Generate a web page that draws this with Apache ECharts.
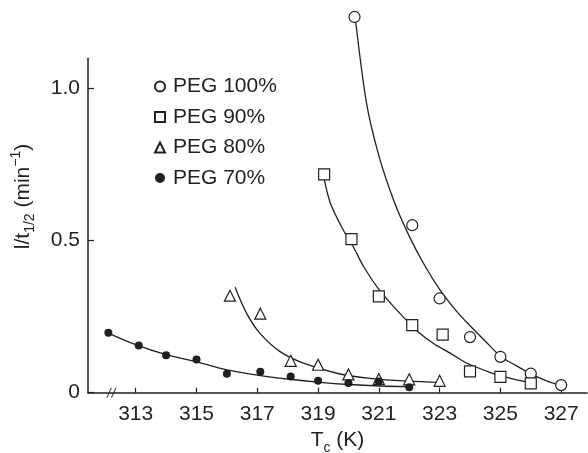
<!DOCTYPE html>
<html>
<head>
<meta charset="utf-8">
<script src="https://cdn.jsdelivr.net/npm/echarts@6/dist/echarts.min.js"></script>
<style>
  html, body { margin: 0; padding: 0; background: #fff; }
  #main { width: 588px; height: 453px; }
</style>
</head>
<body>
<div id="main"></div>
<script>
// tick positions
const xTicks = [313, 315, 317, 319, 321, 323, 325, 327];
const yTicks = [0, 0.5, 1.0];

// measured points (Tc in K, 1/t1/2 in min^-1)
const tc100 = [320.2, 322.1, 323, 324, 325, 326, 327];
const val100 = [1.236, 0.551, 0.31, 0.183, 0.118, 0.063, 0.025];
const tc90 = [319.2, 320.1, 321, 322.1, 323.1, 324, 325, 326];
const val90 = [0.718, 0.505, 0.317, 0.222, 0.191, 0.07, 0.052, 0.031];
const tc80 = [316.1, 317.1, 318.1, 319, 320, 321, 322, 323];
const val80 = [0.319, 0.26, 0.105, 0.092, 0.06, 0.045, 0.044, 0.039];
const tc70 = [312.1, 313.1, 314, 315, 316, 317.1, 318.1, 319, 320, 321, 322];
const val70 = [0.197, 0.155, 0.123, 0.109, 0.0625, 0.069, 0.053, 0.039, 0.032, 0.037, 0.018];

// fitted curves
const fitT100 = [320.22, 320.6, 321.0, 321.5, 322.0, 322.5, 323.0, 323.5, 324.0, 324.5, 325.0, 325.5, 326.0, 326.5, 326.96];
const fitV100 = [1.236, 0.95, 0.78, 0.63, 0.515, 0.42, 0.34, 0.275, 0.22, 0.17, 0.12, 0.09, 0.062, 0.04, 0.025];
const fitT90 = [319.17, 319.4, 319.83, 320.16, 320.5, 321.0, 321.7, 322.3, 322.8, 323.35, 323.9, 324.5, 325.0, 325.5, 325.98];
const fitV90 = [0.718, 0.625, 0.535, 0.48, 0.415, 0.34, 0.26, 0.2, 0.162, 0.13, 0.097, 0.073, 0.055, 0.043, 0.034];
const fitT80 = [316.27, 316.65, 317.09, 317.75, 318.52, 319.62, 320.71, 321.92, 323.1];
const fitV80 = [0.347, 0.261, 0.195, 0.135, 0.097, 0.064, 0.047, 0.038, 0.034];
const fitT70 = [312.08, 313.0, 314.0, 315.1, 316.0, 317.0, 318.0, 319.07, 320.0, 321.04, 321.97];
const fitV70 = [0.197, 0.158, 0.125, 0.099, 0.075, 0.058, 0.045, 0.034, 0.027, 0.022, 0.02];

const breakAt = [312.2];
const names = ['PEG 100%', 'PEG 90%', 'PEG 80%', 'PEG 70%'];

const zip = (a, b) => a.map((v, i) => [v, b[i]]);
const font = 'Liberation Sans, Arial, Helvetica, sans-serif';
const ink = '#231f20';

var chart = echarts.init(document.getElementById('main'));

function pts(name, t, v, symbol, size, filled) {
    return {
        name: name,
        type: 'scatter',
        data: zip(t, v),
        symbol: symbol,
        symbolSize: size,
        clip: false,
        z: 5,
        itemStyle: {
            color: filled ? ink : '#fff',
            borderColor: ink,
            borderWidth: filled ? 0 : 1.2,
            opacity: 1
        }
    };
}
function fit(name, t, v) {
    return {
        name: name,
        type: 'line',
        data: zip(t, v),
        smooth: 0.3,
        showSymbol: false,
        clip: false,
        z: 3,
        lineStyle: { color: ink, width: 1.3 }
    };
}

chart.setOption({
    animation: false,
    backgroundColor: '#fff',
    textStyle: { fontFamily: font },
    grid: { left: 88, right: 1, top: 58.3, bottom: 60.3, containLabel: false, outerBoundsMode: 'none' },
    legend: {
        data: names,
        orient: 'vertical',
        left: 149,
        top: 71,
        itemWidth: 10,
        itemHeight: 10,
        itemGap: 9.5,
        textStyle: { fontSize: 21, color: ink, fontFamily: font, padding: [0, 0, 0, 3] }
    },
    xAxis: {
        type: 'value',
        min: 311.43,
        max: 327.85,
        name: '{n|T}{s|c}{n| (K)}',
        nameLocation: 'middle',
        nameGap: 34,
        nameTextStyle: {
            rich: {
                n: { fontSize: 21, lineHeight: 28, color: ink, fontFamily: font },
                s: { fontSize: 14, lineHeight: 14, verticalAlign: 'bottom', color: ink, fontFamily: font }
            }
        },
        axisLine: { lineStyle: { color: ink, width: 1.5 } },
        axisTick: { inside: true, length: 5, customValues: xTicks, lineStyle: { color: ink, width: 1.2 } },
        axisLabel: { customValues: xTicks, fontSize: 21, color: ink, margin: 11, fontFamily: font },
        splitLine: { show: false }
    },
    yAxis: {
        type: 'value',
        min: 0,
        max: 1.1,
        name: '{n|l/t}{s|1/2}{n| (min}{p|\u22121}{n|)}',
        nameLocation: 'middle',
        nameRotate: 90,
        nameGap: 51,
        nameTextStyle: {
            padding: [0, 0, 0, 58],
            rich: {
                n: { fontSize: 21, lineHeight: 28, color: ink, fontFamily: font },
                s: { fontSize: 14, lineHeight: 14, verticalAlign: 'bottom', color: ink, fontFamily: font },
                p: { fontSize: 14, lineHeight: 14, verticalAlign: 'top', color: ink, fontFamily: font }
            }
        },
        axisLine: { show: true, lineStyle: { color: ink, width: 1.5 } },
        axisTick: { show: true, inside: true, length: 6, customValues: yTicks, lineStyle: { color: ink, width: 1.2 } },
        axisLabel: {
            customValues: yTicks, fontSize: 21, color: ink, margin: 8, fontFamily: font,
            formatter: function (v) { return v === 0 ? '0' : v.toFixed(1); }
        },
        splitLine: { show: false }
    },
    series: [
        fit('fit100', fitT100, fitV100),
        fit('fit90', fitT90, fitV90),
        fit('fit80', fitT80, fitV80),
        fit('fit70', fitT70, fitV70),
        pts(names[0], tc100, val100, 'circle', 11, false),
        pts(names[1], tc90, val90, 'rect', 11, false),
        pts(names[2], tc80, val80, 'triangle', 11, false),
        pts(names[3], tc70, val70, 'circle', 8, true),
        {
            name: 'break',
            type: 'scatter',
            data: breakAt.map(t => [t, 0]),
            symbol: 'path://M0,10 L4,0 M4,10 L8,0',
            symbolSize: [9, 10],
            clip: false,
            z: 6,
            itemStyle: { color: 'none', borderColor: ink, borderWidth: 1.2 }
        }
    ]
});
</script>
</body>
</html>
